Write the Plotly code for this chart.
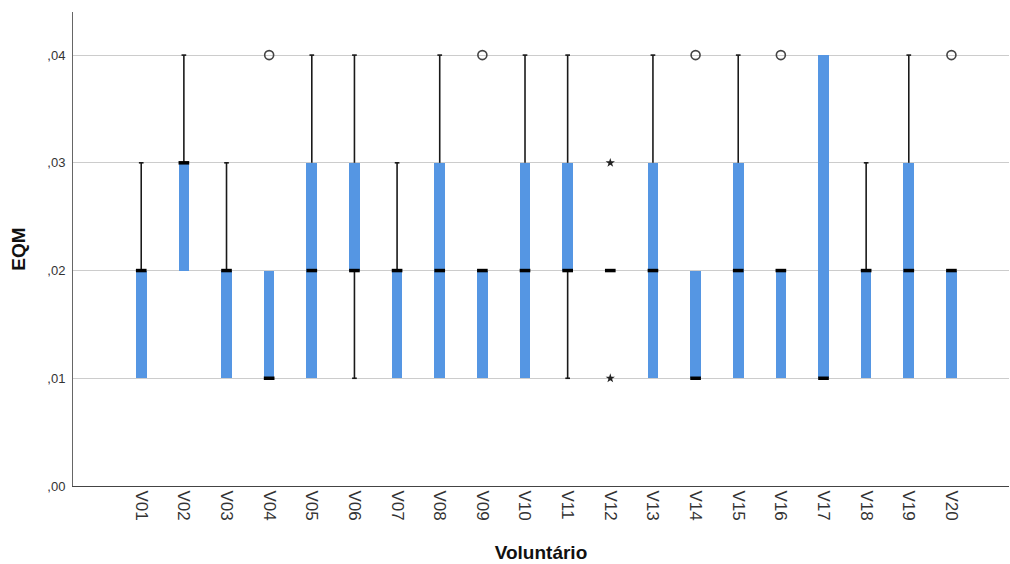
import plotly.graph_objects as go

# Box-plot summary per volunteer (EQM)
voluntarios = ["V01", "V02", "V03", "V04", "V05", "V06", "V07", "V08", "V09", "V10",
               "V11", "V12", "V13", "V14", "V15", "V16", "V17", "V18", "V19", "V20"]
q1 =      [0.01, 0.02, 0.01, 0.01, 0.01, 0.02, 0.01, 0.01, 0.01, 0.01,
           0.02, 0.02, 0.01, 0.01, 0.01, 0.01, 0.01, 0.01, 0.01, 0.01]
mediana = [0.02, 0.03, 0.02, 0.01, 0.02, 0.02, 0.02, 0.02, 0.02, 0.02,
           0.02, 0.02, 0.02, 0.01, 0.02, 0.02, 0.01, 0.02, 0.02, 0.02]
q3 =      [0.02, 0.03, 0.02, 0.02, 0.03, 0.03, 0.02, 0.03, 0.02, 0.03,
           0.03, 0.02, 0.03, 0.02, 0.03, 0.02, 0.04, 0.02, 0.03, 0.02]
whisk_lo = [0.01, 0.02, 0.01, 0.01, 0.01, 0.01, 0.01, 0.01, 0.01, 0.01,
            0.01, 0.02, 0.01, 0.01, 0.01, 0.01, 0.01, 0.01, 0.01, 0.01]
whisk_hi = [0.03, 0.04, 0.03, 0.02, 0.04, 0.04, 0.03, 0.04, 0.02, 0.04,
            0.04, 0.02, 0.04, 0.02, 0.04, 0.02, 0.04, 0.03, 0.04, 0.02]
# Outliers (circle) and extreme values (star)
outlier_cat = ["V04", "V09", "V14", "V16", "V20"]
outlier_val = [0.04, 0.04, 0.04, 0.04, 0.04]
extreme_cat = ["V12", "V12"]
extreme_val = [0.03, 0.01]

y_ticks = [0.00, 0.01, 0.02, 0.03, 0.04]
y_labels = [",00", ",01", ",02", ",03", ",04"]

BOX_W = 0.25
CAP_W = 0.11
idx = {v: i for i, v in enumerate(voluntarios)}
xs = list(range(len(voluntarios)))

fig = go.Figure()

# Whiskers (vertical lines + small caps)
wx, wy = [], []
for i in xs:
    if whisk_hi[i] > q3[i]:
        wx += [i, i, None, i - CAP_W / 2, i + CAP_W / 2, None]
        wy += [q3[i], whisk_hi[i], None, whisk_hi[i], whisk_hi[i], None]
    if whisk_lo[i] < q1[i]:
        wx += [i, i, None, i - CAP_W / 2, i + CAP_W / 2, None]
        wy += [q1[i], whisk_lo[i], None, whisk_lo[i], whisk_lo[i], None]
fig.add_trace(go.Scatter(x=wx, y=wy, mode="lines",
                         line=dict(color="#1a1a1a", width=1.6),
                         hoverinfo="skip", showlegend=False))

# Boxes (Q1 to Q3)
fig.add_trace(go.Bar(x=xs, y=[b - a for a, b in zip(q1, q3)], base=q1,
                     width=BOX_W, marker=dict(color="#5596e3", line=dict(width=0)),
                     showlegend=False))

# Medians
mx, my = [], []
for i in xs:
    mx += [i - BOX_W / 2, i + BOX_W / 2, None]
    my += [mediana[i], mediana[i], None]
fig.add_trace(go.Scatter(x=mx, y=my, mode="lines",
                         line=dict(color="black", width=3.5),
                         hoverinfo="skip", showlegend=False))

# Outliers
fig.add_trace(go.Scatter(x=[idx[c] for c in outlier_cat], y=outlier_val, mode="markers",
                         marker=dict(symbol="circle-open", size=9, color="#444444",
                                     line=dict(color="#444444", width=1.6)),
                         showlegend=False))
fig.add_trace(go.Scatter(x=[idx[c] for c in extreme_cat], y=extreme_val, mode="markers",
                         marker=dict(symbol="star", size=7, color="#222222"),
                         showlegend=False))

fig.update_layout(
    width=1010, height=564,
    margin=dict(l=73, r=1, t=12, b=78),
    plot_bgcolor="white", paper_bgcolor="white",
    font=dict(family="Liberation Sans, Arial, sans-serif", color="#222222"),
    bargap=0,
)
fig.update_xaxes(
    range=[-1.6, 20.35], tickmode="array", tickvals=xs, ticktext=voluntarios,
    tickangle=90, tickfont=dict(size=17, color="#333333"),
    showgrid=False, zeroline=False, showline=True, linecolor="#444444", linewidth=1,
    ticks="", ticklen=0,
    title=dict(text="Voluntário", font=dict(size=19, color="#111111", weight="bold"), standoff=26),
)
fig.update_yaxes(
    range=[0, 0.044], tickmode="array", tickvals=y_ticks, ticktext=y_labels,
    tickfont=dict(size=13, color="#333333"),
    showgrid=True, gridcolor="#cccccc", gridwidth=1, zeroline=False,
    showline=True, linecolor="#666666", linewidth=1, ticks="", ticklabelstandoff=4,
    title=dict(text="EQM", font=dict(size=19, color="#111111", weight="bold"), standoff=16),
)

fig.write_html("out.html")
